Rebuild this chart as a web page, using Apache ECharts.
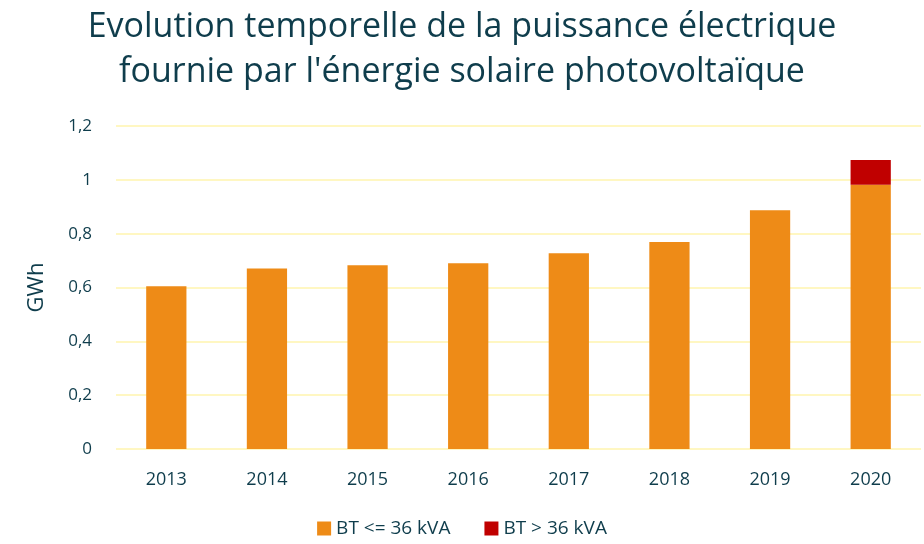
<!DOCTYPE html>
<html><head><meta charset="utf-8">
<script src="https://cdn.jsdelivr.net/npm/echarts@6/dist/echarts.min.js"></script>
<style>html,body{margin:0;padding:0;background:#fff}#c{width:924px;height:544px}</style>
</head><body><div id="c"></div>
<script>
const categories = ['2013','2014','2015','2016','2017','2018','2019','2020'];
const btLow = [0.605, 0.671, 0.683, 0.690, 0.727, 0.769, 0.887, 0.982];
const btHigh = [null, null, null, null, null, null, null, 0.092];
const seriesNames = ['BT <= 36 kVA', 'BT > 36 kVA'];
const yTicks = {min: 0, max: 1.2, interval: 0.2};

const textColor = '#0f3d4c';
const font = 'Open Sans';
const chart = echarts.init(document.getElementById('c'), null, {renderer: 'canvas'});
chart.setOption({
  animation: false,
  title: {
    text: 'Evolution temporelle de la puissance électrique\nfournie par l\'énergie solaire photovoltaïque',
    left: 'center', top: 0,
    textStyle: {color: textColor, fontFamily: font, fontWeight: 'normal', fontSize: 34, lineHeight: 45}
  },
  legend: {
    bottom: 1, left: 'center', itemWidth: 14, itemHeight: 14, itemGap: 34,
    icon: 'rect',
    textStyle: {color: textColor, fontFamily: font, fontSize: 19}
  },
  grid: {left: 116, right: 3, top: 126, bottom: 95},
  xAxis: {
    type: 'category', data: categories,
    axisLine: {show: false}, axisTick: {show: false},
    axisLabel: {color: textColor, fontFamily: font, fontSize: 18, margin: 22}
  },
  yAxis: {
    type: 'value', min: yTicks.min, max: yTicks.max, interval: yTicks.interval,
    name: 'GWh', nameLocation: 'middle', nameGap: 68, nameRotate: 90,
    nameTextStyle: {color: textColor, fontFamily: font, fontSize: 22},
    axisLine: {show: false}, axisTick: {show: false},
    axisLabel: {color: textColor, fontFamily: font, fontSize: 17, margin: 24,
      formatter: v => String(Math.round(v * 10) / 10).replace('.', ',')},
    splitLine: {lineStyle: {color: '#fff7c2', width: 2}}
  },
  series: [
    {name: seriesNames[0], type: 'bar', stack: 's', data: btLow, barWidth: '40%',
     itemStyle: {color: '#ee8b17'}},
    {name: seriesNames[1], type: 'bar', stack: 's', data: btHigh, barWidth: '40%',
     itemStyle: {color: '#c00000'}}
  ]
});
</script></body></html>
